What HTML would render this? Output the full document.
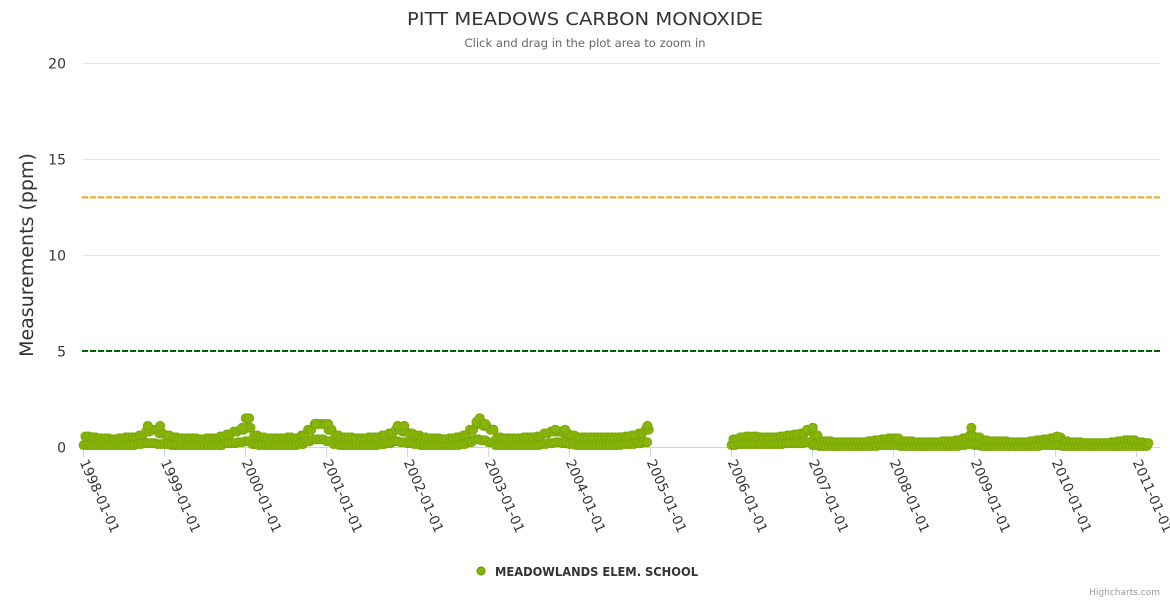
<!DOCTYPE html>
<html><head><meta charset="utf-8">
<style>
html,body{margin:0;padding:0;background:#fff;}
svg{display:block;font-family:"DejaVu Sans","Liberation Sans",sans-serif;}
</style></head>
<body>
<svg id="chart" width="1170" height="600" viewBox="0 0 1170 600">
  <rect x="0" y="0" width="1170" height="600" fill="#fff"/>
  <text x="585" y="25" text-anchor="middle" font-size="18" fill="#333" textLength="356" lengthAdjust="spacingAndGlyphs">PITT MEADOWS CARBON MONOXIDE</text>
  <text x="585" y="47" text-anchor="middle" font-size="11.5" fill="#666" textLength="241" lengthAdjust="spacingAndGlyphs">Click and drag in the plot area to zoom in</text>
  <g id="grid"></g>
  <g id="yticks"></g>
  <text transform="translate(33,255) rotate(-90)" text-anchor="middle" font-size="19" fill="#333">Measurements (ppm)</text>
  <g id="plotlines"></g>
  <line x1="82" y1="447.5" x2="1160" y2="447.5" stroke="#ccd6eb" stroke-width="1"/>
  <g id="xticks"></g>
  <g id="series"></g>
  <g>
    <circle cx="481" cy="571" r="4" fill="#88b50a" stroke="#5e8c00" stroke-width="1"/>
    <text x="495" y="576" font-size="12.5" font-weight="bold" fill="#333" textLength="203" lengthAdjust="spacingAndGlyphs">MEADOWLANDS ELEM. SCHOOL</text>
  </g>
  <text x="1160" y="595" text-anchor="end" font-size="9" fill="#999">Highcharts.com</text>
</svg>
<script>
const yTicks = [0, 5, 10, 15, 20];
const xTickYears = [1998,1999,2000,2001,2002,2003,2004,2005,2006,2007,2008,2009,2010,2011];
const plotLineValues = [13, 5];
const plotLineColors = ["#f0a30a", "#006400"];
const startYears = [1998, 2006];
const hi1 = [
 0.55,0.5,0.45,0.45,0.4,0.45,0.5,0.5,0.6,0.8,0.9,0.7,
 0.6,0.5,0.45,0.45,0.45,0.4,0.45,0.45,0.55,0.65,0.8,0.9,
 1.0,0.6,0.5,0.45,0.45,0.45,0.5,0.45,0.6,0.9,1.2,1.2,
 0.9,0.6,0.5,0.5,0.45,0.45,0.5,0.5,0.6,0.7,0.9,0.8,
 0.7,0.6,0.5,0.45,0.45,0.4,0.45,0.5,0.6,0.9,1.2,1.1,
 0.9,0.5,0.45,0.45,0.45,0.5,0.5,0.55,0.7,0.8,0.8,0.7,
 0.6,0.5,0.5,0.5,0.5,0.5,0.5,0.5,0.55,0.6,0.7,0.9];
const lo1 = [
 0.1,0.1,0.1,0.1,0.1,0.1,0.1,0.1,0.15,0.2,0.2,0.15,
 0.15,0.1,0.1,0.1,0.1,0.1,0.1,0.1,0.1,0.2,0.2,0.25,
 0.3,0.15,0.1,0.1,0.1,0.1,0.1,0.1,0.15,0.3,0.4,0.4,
 0.3,0.15,0.1,0.1,0.1,0.1,0.1,0.1,0.15,0.2,0.3,0.25,
 0.2,0.15,0.1,0.1,0.1,0.1,0.1,0.1,0.15,0.25,0.4,0.35,
 0.25,0.1,0.1,0.1,0.1,0.1,0.1,0.1,0.15,0.2,0.25,0.2,
 0.15,0.1,0.1,0.1,0.1,0.1,0.1,0.1,0.15,0.15,0.2,0.25];
const hi2 = [
 0.4,0.5,0.55,0.55,0.5,0.5,0.5,0.55,0.6,0.65,0.7,0.85,
 0.6,0.3,0.3,0.25,0.25,0.25,0.25,0.25,0.3,0.35,0.4,0.45,
 0.45,0.3,0.3,0.25,0.25,0.25,0.25,0.3,0.3,0.35,0.45,0.6,
 0.5,0.35,0.3,0.3,0.3,0.25,0.25,0.25,0.3,0.35,0.4,0.45,
 0.5,0.3,0.25,0.25,0.2,0.2,0.2,0.2,0.25,0.3,0.35,0.35,
 0.25,0.2];
const lo2 = [
 0.1,0.15,0.15,0.15,0.15,0.15,0.15,0.15,0.2,0.2,0.2,0.25,
 0.1,0.05,0.05,0.05,0.05,0.05,0.05,0.05,0.05,0.05,0.1,0.1,
 0.1,0.05,0.05,0.05,0.05,0.05,0.05,0.05,0.05,0.05,0.1,0.15,
 0.1,0.05,0.05,0.05,0.05,0.05,0.05,0.05,0.05,0.05,0.1,0.1,
 0.1,0.05,0.05,0.05,0.05,0.05,0.05,0.05,0.05,0.05,0.05,0.05,
 0.05,0.05];
const peakDates = ["1998-10-20","1998-12-15","1999-12-20","2000-01-05","2000-01-20","2000-11-15","2001-01-10","2001-11-20","2001-12-20","2002-11-10","2002-11-25","2002-12-20","2003-11-01","2003-12-15","2004-12-20","2006-12-10","2007-01-05","2008-12-20","2010-01-10"];
const peakValues = [1.1,1.1,1.0,1.5,1.5,1.2,1.2,1.1,1.1,1.3,1.5,1.2,0.9,0.9,1.1,0.9,1.0,1.0,0.55];

const NS = "http://www.w3.org/2000/svg";
const X0 = 83, PX_PER_YEAR = 81, Y0 = 447, Y_TOP = 63, Y_MAX = 20;
const t0 = Date.UTC(1998,0,1);
function xScale(ms){ return X0 + (ms - t0) / (365.25*864e5) * PX_PER_YEAR; }
function yScale(v){ return Y0 - v / Y_MAX * (Y0 - Y_TOP); }
function mk(tag, attrs, parent){ const e=document.createElementNS(NS,tag); for(const k in attrs) e.setAttribute(k, attrs[k]); parent.appendChild(e); return e; }

const grid = document.getElementById('grid'), ytk = document.getElementById('yticks');
yTicks.forEach(v => {
  const y = Math.round(yScale(v)) + 0.5;
  if (v !== 0) {
    const l = mk('line', {x1:82, x2:1160, y1:y, y2:y, stroke:'#e6e6e6', 'stroke-width':1}, grid);
    
    
  }
  const t = mk('text', {x:66, y:y+5, 'text-anchor':'end', 'font-size':14, fill:'#333'}, ytk);
  t.textContent = v;
  
  
});

const pl = document.getElementById('plotlines');
plotLineValues.forEach((v, i) => {
  const y = yScale(v);
  const l = mk('line', {x1:82, x2:1160, y1:y, y2:y, stroke:plotLineColors[i], 'stroke-width':2, 'stroke-dasharray':'6,2'}, pl);
  
  
});

const xtk = document.getElementById('xticks');
xTickYears.forEach(yr => {
  const x = Math.round(xScale(Date.UTC(yr,0,1))) + 0.5;
  const l = mk('line', {x1:x, x2:x, y1:447, y2:457, stroke:'#ccd6eb', 'stroke-width':1}, xtk);
  
  
  const t = mk('text', {x:0, y:0, 'font-size':13.5, fill:'#333', transform:'translate('+(x-4)+',462) rotate(66)'}, xtk);
  t.textContent = yr + '-01-01';
  
  
});

const ser = document.getElementById('series');
function dot(ms, v){
  const c = mk('circle', {cx:xScale(ms), cy:yScale(v), r:4.5, fill:'#88b50a', stroke:'#7aa705', 'stroke-width':1}, ser);
  
  
}
[[hi1, lo1], [hi2, lo2]].forEach((pair, s) => {
  const hi = pair[0], lo = pair[1];
  hi.forEach((v, i) => {
    const yr = startYears[s] + Math.floor(i/12), mo = i % 12;
    dot(Date.UTC(yr, mo, 4), lo[i]);
    dot(Date.UTC(yr, mo, 12), v);
    dot(Date.UTC(yr, mo, 19), lo[i]);
    dot(Date.UTC(yr, mo, 26), v);
  });
});
peakDates.forEach((d, i) => { dot(Date.parse(d), peakValues[i]); });
</script>
</body></html>
